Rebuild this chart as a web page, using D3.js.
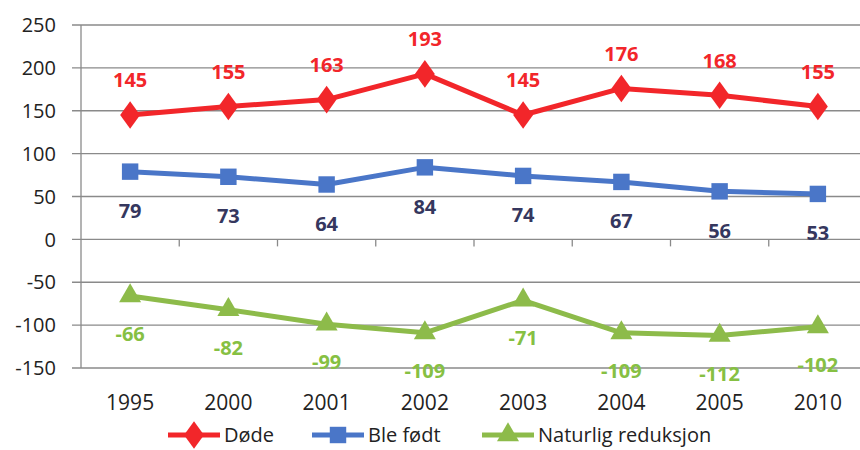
<!DOCTYPE html>
<html><head><meta charset="utf-8">
<script src="https://cdn.jsdelivr.net/npm/d3@7"></script>
<style>body{margin:0;background:#fff}svg{display:block}</style>
</head><body><svg id="c" width="860" height="450"></svg>
<script>
const categories = ["1995","2000","2001","2002","2003","2004","2005","2010"];
const dode = [145,155,163,193,145,176,168,155];
const bleFodt = [79,73,64,84,74,67,56,53];
const naturlig = [-66,-82,-99,-109,-71,-109,-112,-102];
const yTicks = [-150,-100,-50,0,50,100,150,200,250];
const seriesNames = ["Døde","Ble født","Naturlig reduksjon"];

const svg = d3.select("#c");
const font = "'Open Sans', sans-serif";
const x = d3.scaleBand().domain(categories).range([81, 867]);
const y = d3.scaleLinear().domain([-150, 250]).range([368, 25]);
const cx = d => x(d) + x.bandwidth()/2;

// gridlines
svg.append("g").selectAll("line").data(yTicks).join("line")
  .attr("x1", 72).attr("x2", 867).attr("y1", d => y(d)).attr("y2", d => y(d))
  .attr("stroke", "#8a8a8a").attr("stroke-width", 1.3);
// y axis line
svg.append("line").attr("x1", 81).attr("x2", 81).attr("y1", y(250)).attr("y2", y(-150))
  .attr("stroke", "#8a8a8a").attr("stroke-width", 1.3);
// x ticks on zero line
svg.append("g").selectAll("line").data(categories.slice(1)).join("line")
  .attr("x1", d => x(d)).attr("x2", d => x(d)).attr("y1", y(0)).attr("y2", y(0) + 7)
  .attr("stroke", "#8a8a8a").attr("stroke-width", 1.3);
// y tick labels
svg.append("g").selectAll("text").data(yTicks).join("text")
  .attr("x", 56).attr("y", d => y(d)).attr("dy", "0.36em").attr("text-anchor", "end")
  .attr("font-family", font).attr("font-size", 20).attr("fill", "#222").text(d => d);
// x labels
svg.append("g").selectAll("text").data(categories).join("text")
  .attr("x", d => cx(d)).attr("y", 402).attr("dy", "0.36em").attr("text-anchor", "middle")
  .attr("font-family", font).attr("font-size", 21).attr("fill", "#222").text(d => d);

const series = [
  {name: seriesNames[0], vals: dode, color: "#f2262a", lab: "#f2262a", sym: d3.symbolDiamond, size: 220, off: -35},
  {name: seriesNames[1], vals: bleFodt, color: "#4a76c8", lab: "#35375e", sym: d3.symbolSquare, size: 270, off: 39},
  {name: seriesNames[2], vals: naturlig, color: "#8dbb4a", lab: "#86c043", sym: d3.symbolTriangle, size: 210, off: 38}
];
const line = d3.line().x((d,i) => cx(categories[i])).y(d => y(d));
series.forEach(s => {
  const g = svg.append("g");
  g.append("path").attr("d", line(s.vals)).attr("fill", "none").attr("stroke", s.color)
    .attr("stroke-width", 5).attr("stroke-linejoin", "round");
  g.selectAll("path.m").data(s.vals).join("path").attr("class","m")
    .attr("transform", (d,i) => `translate(${cx(categories[i])},${y(d)})${s.sym===d3.symbolDiamond?" scale(1.25,1)":""}`)
    .attr("d", d3.symbol(s.sym, s.size)).attr("fill", s.color);
  g.selectAll("text").data(s.vals).join("text")
    .attr("x", (d,i) => cx(categories[i])).attr("y", d => y(d) + s.off).attr("dy", "0.36em")
    .attr("text-anchor", "middle").attr("font-family", font).attr("font-size", 20).attr("font-weight", "bold")
    .attr("fill", s.lab).text(d => d);
});

// legend
const legendX = [168, 312, 482];
const ly = 435;
series.forEach((s, i) => {
  const g = svg.append("g");
  g.append("line").attr("x1", legendX[i]).attr("x2", legendX[i] + 52).attr("y1", ly).attr("y2", ly)
    .attr("stroke", s.color).attr("stroke-width", 5);
  g.append("path").attr("transform", `translate(${legendX[i]+26},${ly})${s.sym===d3.symbolDiamond?" scale(1.25,1)":""}`)
    .attr("d", d3.symbol(s.sym, s.size)).attr("fill", s.color);
  g.append("text").attr("x", legendX[i] + 56).attr("y", ly).attr("dy", "0.36em")
    .attr("font-family", font).attr("font-size", 20).attr("fill", "#222").text(s.name);
});
</script></body></html>
